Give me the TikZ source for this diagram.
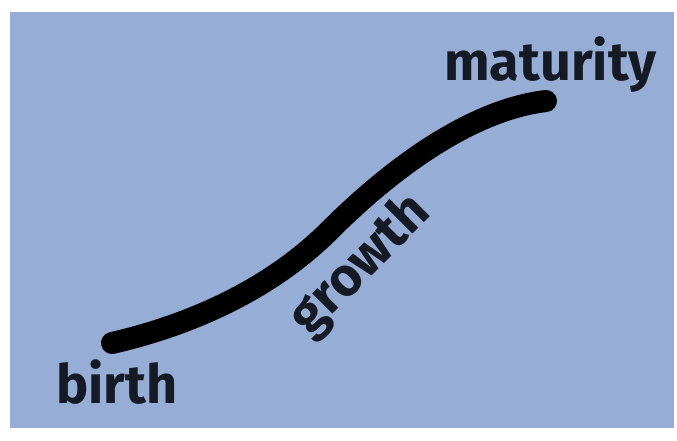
\documentclass[tikz,border=0pt]{standalone}
\usepackage{fontspec}
\setmainfont{Fira Sans}
\usepackage{xcolor}
\usepackage{tikz}
\usetikzlibrary{positioning}

\definecolor{skyblue}{RGB}{150,174,214}
\definecolor{inkdark}{RGB}{22,26,36}

\begin{document}
\begin{tikzpicture}[
    x=1pt, y=-1pt,
    stage/.style={font=\fontsize{54}{54}\selectfont\bfseries, text=inkdark, inner sep=0pt},
    lifeline/.style={line width=22pt, line cap=round, draw=black}
]

\useasboundingbox (0,0) rectangle (677,440);
\fill[skyblue] (10,12) rectangle (674,428);

% Nodes
\node[stage, anchor=base west] (birth) at (56,403) {birth};
\node[stage, anchor=base west] (maturity) at (444,80) {maturity};
\node[stage, rotate=45] (growth) at (361,266) {growth};

\coordinate (start) at (112,343);
\coordinate (bend) at (330,230);
\coordinate (end) at (546,101);

% Curve
\draw[lifeline] (start) .. controls (190,325) and (270,290) .. (bend)
    .. controls (390,170) and (470,110) .. (end);

\end{tikzpicture}
\end{document}
